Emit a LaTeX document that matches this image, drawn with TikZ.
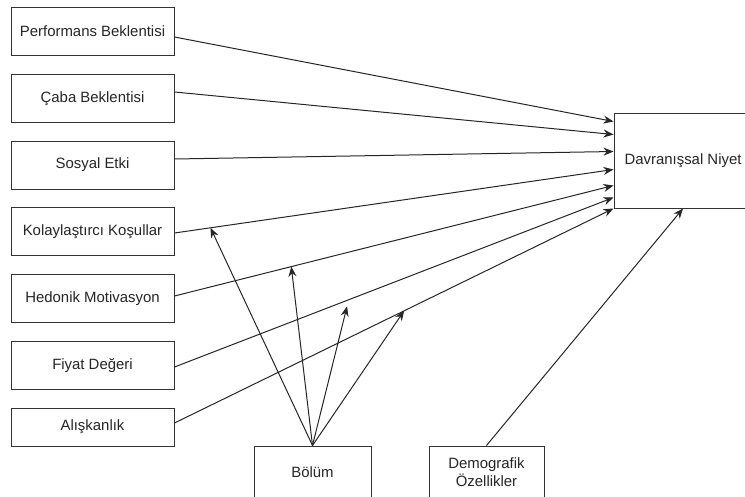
\documentclass[tikz,border=0pt]{standalone}
\usepackage{fontspec}
\setmainfont{Liberation Sans}
\usetikzlibrary{calc,arrows.meta}

\tikzset{
  kutu/.style={draw=black!80, line width=0.75pt, fill=white, minimum width=122.25pt, minimum height=36pt, inner sep=0pt, align=center, font=\fontsize{11.2}{13}\selectfont, text=black!85},
  ok/.style={draw=black!85, line width=0.75pt, -{Stealth[length=7.5pt,width=6pt]}}
}

\begin{document}
\begin{tikzpicture}[x=0.75pt,y=0.75pt,yscale=-1,xscale=1]
\useasboundingbox (0,0) rectangle (745,496);

% left side boxes
\node[kutu] (perf) at (92.5,31.5) {Performans Beklentisi};
\node[kutu] (caba) at (92.5,98.5) {Çaba Beklentisi};
\node[kutu] (sosyal) at (92.5,165) {Sosyal Etki};
\node[kutu] (kolay) at (92.5,231.5) {Kolaylaştırcı Koşullar};
\node[kutu] (hedonik) at (92.5,298.5) {Hedonik Motivasyon};
\node[kutu] (fiyat) at (92.5,365.5) {Fiyat Değeri};
\node[kutu, minimum height=28.5pt] (aliskanlik) at (92.5,427) {Alışkanlık};

% target box
\node[kutu, minimum width=103.5pt, minimum height=71.25pt] (niyet) at (683,160.5) {Davranışsal Niyet};

% moderators
\node[kutu, minimum width=87.75pt, minimum height=39pt] (bolum) at (312.5,472) {Bölüm};
\node[kutu, minimum width=86.25pt, minimum height=39pt] (demo) at (486.5,472) {Demografik\\Özellikler};

% direct paths
\draw[ok] ($(perf.east)+(0,5.5)$) -- ($(niyet.north west)+(0,9)$);
\draw[ok] ($(caba.east)+(0,-6.5)$) -- ($(niyet.north west)+(0,22)$);
\draw[ok] ($(sosyal.east)+(0,-6)$) -- ($(niyet.north west)+(0,39)$);
\draw[ok] ($(kolay.east)+(0,1.5)$) -- ($(niyet.north west)+(0,57)$) coordinate[pos=0.082] (m4);
\draw[ok] ($(hedonik.east)+(0,-2.5)$) -- ($(niyet.north west)+(0,73)$) coordinate[pos=0.266] (m5);
\draw[ok] ($(fiyat.east)+(0,1.5)$) -- ($(niyet.north west)+(0,85)$) coordinate[pos=0.393] (m6);
\draw[ok] ($(aliskanlik.east)+(0,-4)$) -- (niyet.south west) coordinate[pos=0.523] (m7);

% moderating paths
\draw[ok] (bolum.north) -- (m4);
\draw[ok] (bolum.north) -- (m5);
\draw[ok] (bolum.north) -- ($(m6)+(0,6)$);
\draw[ok] (bolum.north) -- (m7);
\draw[ok] (demo.north) -- (niyet.south);

\end{tikzpicture}
\end{document}
